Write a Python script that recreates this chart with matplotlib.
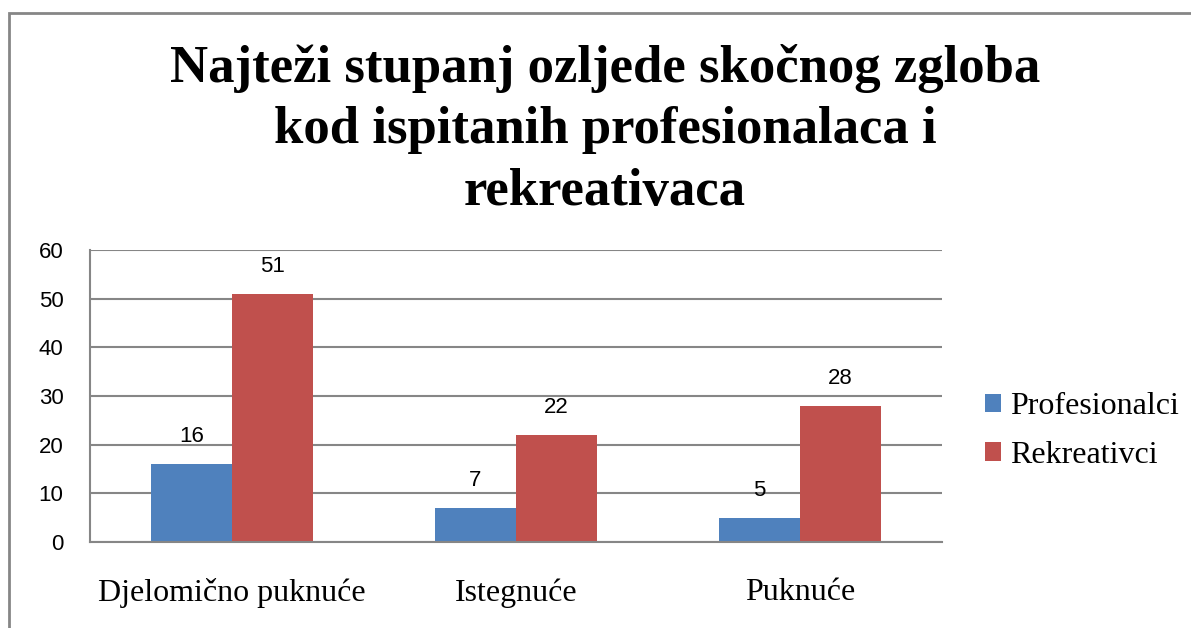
import matplotlib
matplotlib.use("Agg")
import matplotlib.pyplot as plt
import numpy as np
from matplotlib.patches import Rectangle

categories = ["Djelomično puknuće", "Istegnuće", "Puknuće"]
profesionalci = [16, 7, 5]
rekreativci = [51, 22, 28]
series_names = ["Profesionalci", "Rekreativci"]
yticks = [0, 10, 20, 30, 40, 50, 60]
title = "Najteži stupanj ozljede skočnog zgloba\nkod ispitanih profesionalaca i\nrekreativaca"

W, H = 1191, 628
fig = plt.figure(figsize=(W / 100, H / 100), dpi=100)

# outer chart frame (cropped at right/bottom)
fig.patches.append(Rectangle((9 / W, -0.1), 1.2, (H - 13) / H + 0.1,
                             transform=fig.transFigure, fill=False,
                             edgecolor="#868686", linewidth=2, zorder=0))

ax = fig.add_axes([90 / W, (H - 542) / H, (942 - 90) / W, (542 - 250) / H])

x = np.arange(len(categories))
w = 1 / 3.5
c1, c2 = "#4F81BD", "#C0504D"
b1 = ax.bar(x - w / 2, profesionalci, w, color=c1, label=series_names[0], zorder=2)
b2 = ax.bar(x + w / 2, rekreativci, w, color=c2, label=series_names[1], zorder=2)

sans = ["Liberation Sans", "DejaVu Sans"]
serif = ["Liberation Serif", "DejaVu Serif"]

for bars in (b1, b2):
    for r in bars:
        ax.annotate(f"{int(r.get_height())}", (r.get_x() + r.get_width() / 2, r.get_height()),
                    xytext=(0, 12), textcoords="offset points", ha="center", va="bottom",
                    fontsize=16, family=sans, color="black")

ax.set_xlim(-0.5, len(categories) - 0.5)
ax.set_ylim(0, 60)
ax.set_yticks(yticks)
ax.set_yticklabels([str(v) for v in yticks], fontsize=16, family=sans)
ax.set_xticks(x)
ax.set_xticklabels(categories, fontsize=23, family=serif)
ax.tick_params(axis="y", length=0, pad=19)
ax.tick_params(axis="x", length=0, pad=26)
ax.yaxis.grid(True, color="#868686", linewidth=1.5, zorder=0)
ax.set_axisbelow(True)
for s in ("top", "right"):
    ax.spines[s].set_visible(False)
for s in ("left", "bottom"):
    ax.spines[s].set_color("#868686")
    ax.spines[s].set_linewidth(1.5)

fig.text(605 / W, 1 - 44 / H, title, ha="center", va="top", fontsize=38,
         fontweight="bold", family=serif, linespacing=1.36)

leg = fig.legend(handles=[b1, b2], labels=series_names, loc="center left",
                 bbox_to_anchor=(956 / W, 1 - 431 / H), frameon=False,
                 prop={"family": serif, "size": 23}, handlelength=0.5,
                 handleheight=0.5, handletextpad=0.3, labelspacing=0.62)

fig.savefig("out.png", dpi=100)
